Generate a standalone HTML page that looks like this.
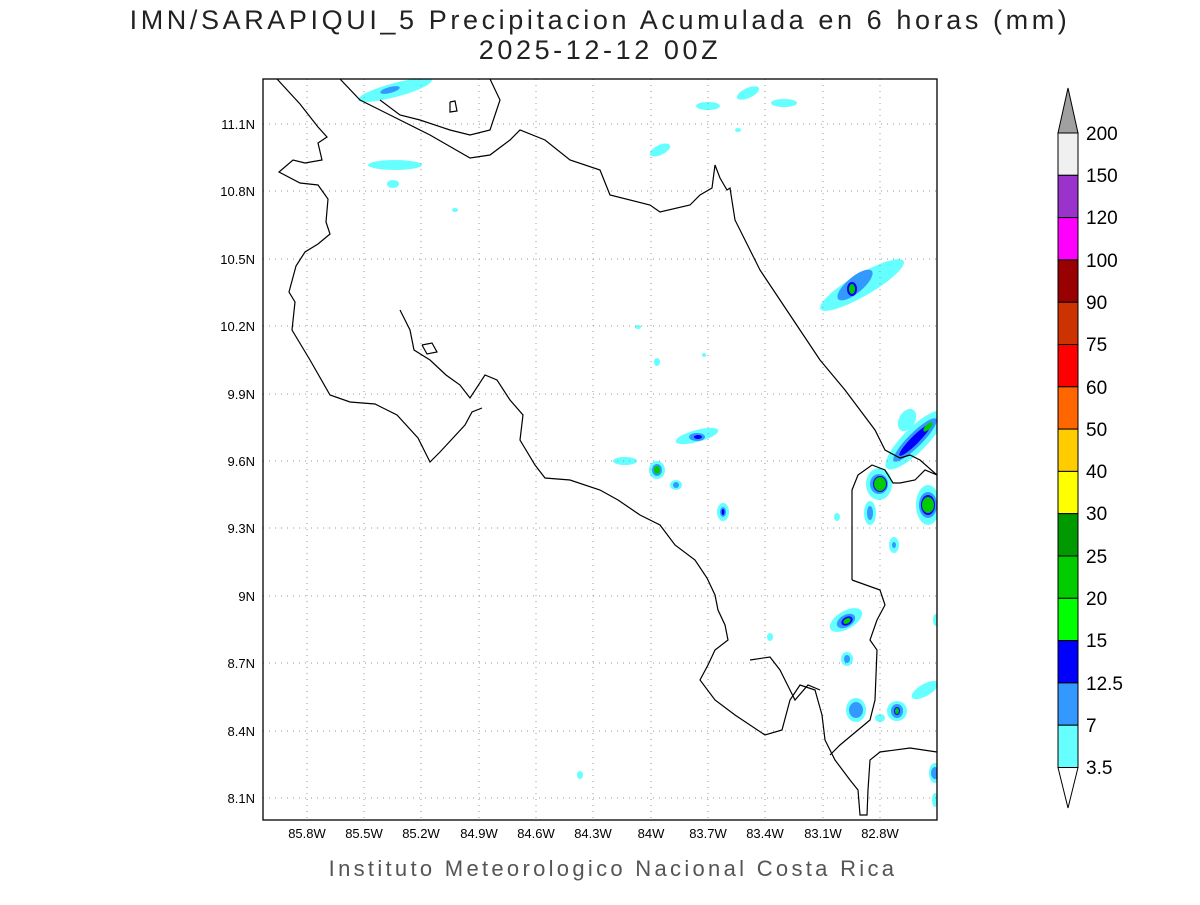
<!DOCTYPE html>
<html><head><meta charset="utf-8"><style>
body{margin:0;background:#fff;width:1200px;height:900px;overflow:hidden}
svg text{font-family:"Liberation Sans",sans-serif}
</style></head><body>
<svg width="1200" height="900" viewBox="0 0 1200 900" xmlns="http://www.w3.org/2000/svg">
<text x="600" y="29" font-size="27" text-anchor="middle" fill="#222" letter-spacing="3.6">IMN/SARAPIQUI_5 Precipitacion Acumulada en 6 horas (mm)</text>
<text x="600" y="59" font-size="27" text-anchor="middle" fill="#222" letter-spacing="3.6">2025-12-12 00Z</text>
<defs><clipPath id="c"><rect x="263" y="79" width="674" height="741"/></clipPath></defs>
<g clip-path="url(#c)">
<g>
<ellipse cx="395" cy="90" rx="38" ry="7" transform="rotate(-15 395 90)" fill="#66ffff"/><ellipse cx="390" cy="90" rx="10" ry="3" transform="rotate(-15 390 90)" fill="#3399ff"/>
<ellipse cx="395" cy="165" rx="27" ry="5" fill="#66ffff"/><ellipse cx="393" cy="184" rx="6" ry="4" fill="#66ffff"/>
<ellipse cx="708" cy="106" rx="12" ry="4" fill="#66ffff"/><ellipse cx="748" cy="93" rx="12" ry="5" transform="rotate(-25 748 93)" fill="#66ffff"/><ellipse cx="784" cy="103" rx="13" ry="4" fill="#66ffff"/>
<ellipse cx="660" cy="150" rx="11" ry="5" transform="rotate(-25 660 150)" fill="#66ffff"/>
<ellipse cx="862" cy="285" rx="48" ry="11" transform="rotate(-30 862 285)" fill="#66ffff"/><ellipse cx="855" cy="285" rx="22" ry="8" transform="rotate(-40 855 285)" fill="#3399ff"/><ellipse cx="852" cy="289" rx="5" ry="7" fill="#0000ff"/><ellipse cx="852" cy="289" rx="3" ry="5" fill="#00cc00"/>
<ellipse cx="697" cy="436" rx="22" ry="6" transform="rotate(-15 697 436)" fill="#66ffff"/><ellipse cx="697" cy="437" rx="8" ry="4" fill="#3399ff"/><ellipse cx="698" cy="437" rx="4" ry="2" fill="#0000ff"/>
<ellipse cx="625" cy="461" rx="12" ry="4" fill="#66ffff"/>
<ellipse cx="657" cy="470" rx="8" ry="9" fill="#66ffff"/><ellipse cx="657" cy="470" rx="5" ry="6" fill="#3399ff"/><ellipse cx="657" cy="470" rx="3" ry="4" fill="#00cc00"/>
<ellipse cx="676" cy="485" rx="6" ry="5" fill="#66ffff"/><ellipse cx="676" cy="485" rx="3" ry="3" fill="#3399ff"/>
<ellipse cx="723" cy="512" rx="6" ry="9" fill="#66ffff"/><ellipse cx="723" cy="512" rx="3" ry="5" fill="#3399ff"/><ellipse cx="723" cy="512" rx="1.5" ry="3" fill="#0000ff"/>
<ellipse cx="907" cy="420" rx="8" ry="12" transform="rotate(30 907 420)" fill="#66ffff"/>
<ellipse cx="915" cy="440" rx="40" ry="12" transform="rotate(-45 915 440)" fill="#66ffff"/><ellipse cx="915" cy="440" rx="30" ry="7" transform="rotate(-45 915 440)" fill="#3399ff"/><ellipse cx="915" cy="440" rx="22" ry="4" transform="rotate(-45 915 440)" fill="#0000ff"/><ellipse cx="928" cy="427" rx="6" ry="2.5" transform="rotate(-45 928 427)" fill="#00cc00"/>
<ellipse cx="879" cy="484" rx="13" ry="16" fill="#66ffff"/><ellipse cx="879" cy="484" rx="9" ry="10" fill="#3399ff"/><ellipse cx="880" cy="484" rx="7" ry="8" fill="#0000ff"/><ellipse cx="880" cy="484" rx="6" ry="7" fill="#00cc00"/>
<ellipse cx="928" cy="505" rx="12" ry="20" fill="#66ffff"/><ellipse cx="928" cy="505" rx="9" ry="13" fill="#3399ff"/><ellipse cx="928" cy="505" rx="7" ry="10" fill="#0000ff"/><ellipse cx="928" cy="505" rx="6" ry="8" fill="#00cc00"/>
<ellipse cx="870" cy="513" rx="6" ry="12" fill="#66ffff"/><ellipse cx="870" cy="513" rx="3" ry="7" fill="#3399ff"/>
<ellipse cx="837" cy="517" rx="3" ry="4" fill="#66ffff"/>
<ellipse cx="894" cy="545" rx="5" ry="8" fill="#66ffff"/><ellipse cx="894" cy="545" rx="2" ry="3" fill="#3399ff"/>
<ellipse cx="846" cy="620" rx="18" ry="9" transform="rotate(-30 846 620)" fill="#66ffff"/><ellipse cx="846" cy="621" rx="10" ry="6" transform="rotate(-30 846 621)" fill="#3399ff"/><ellipse cx="847" cy="621" rx="6" ry="4" transform="rotate(-30 847 621)" fill="#0000ff"/><ellipse cx="847" cy="621" rx="4" ry="2.5" transform="rotate(-30 847 621)" fill="#00cc00"/>
<ellipse cx="847" cy="659" rx="6" ry="7" fill="#66ffff"/><ellipse cx="847" cy="659" rx="3" ry="4" fill="#3399ff"/>
<ellipse cx="856" cy="710" rx="10" ry="12" fill="#66ffff"/><ellipse cx="856" cy="710" rx="7" ry="8" fill="#3399ff"/>
<ellipse cx="897" cy="711" rx="10" ry="10" fill="#66ffff"/><ellipse cx="897" cy="711" rx="6" ry="7" fill="#3399ff"/><ellipse cx="897" cy="711" rx="3" ry="4" fill="#0000ff"/><ellipse cx="897" cy="711" rx="2" ry="3" fill="#00cc00"/>
<ellipse cx="880" cy="718" rx="5" ry="4" fill="#66ffff"/>
<ellipse cx="925" cy="690" rx="15" ry="6" transform="rotate(-30 925 690)" fill="#66ffff"/>
<ellipse cx="936" cy="620" rx="3" ry="6" fill="#66ffff"/>
<ellipse cx="935" cy="773" rx="6" ry="10" fill="#66ffff"/><ellipse cx="935" cy="773" rx="4" ry="6" fill="#3399ff"/><ellipse cx="935" cy="800" rx="3" ry="7" fill="#66ffff"/>
<ellipse cx="770" cy="637" rx="3" ry="4" fill="#66ffff"/><ellipse cx="580" cy="775" rx="3" ry="4" fill="#66ffff"/>
<ellipse cx="657" cy="362" rx="3" ry="4" fill="#66ffff"/><ellipse cx="638" cy="327" rx="3" ry="2" fill="#66ffff"/><ellipse cx="704" cy="355" rx="2" ry="2" fill="#66ffff"/><ellipse cx="455" cy="210" rx="3" ry="2" fill="#66ffff"/><ellipse cx="738" cy="130" rx="3" ry="2" fill="#66ffff"/>
</g>
<g stroke="#999" stroke-width="1" stroke-dasharray="1,5">
<line x1="263" y1="124" x2="937" y2="124"/><line x1="263" y1="191" x2="937" y2="191"/><line x1="263" y1="259" x2="937" y2="259"/><line x1="263" y1="326" x2="937" y2="326"/><line x1="263" y1="394" x2="937" y2="394"/><line x1="263" y1="461" x2="937" y2="461"/><line x1="263" y1="528" x2="937" y2="528"/><line x1="263" y1="596" x2="937" y2="596"/><line x1="263" y1="663" x2="937" y2="663"/><line x1="263" y1="731" x2="937" y2="731"/><line x1="263" y1="798" x2="937" y2="798"/>
<line x1="307" y1="79" x2="307" y2="820"/><line x1="364" y1="79" x2="364" y2="820"/><line x1="421" y1="79" x2="421" y2="820"/><line x1="479" y1="79" x2="479" y2="820"/><line x1="536" y1="79" x2="536" y2="820"/><line x1="593" y1="79" x2="593" y2="820"/><line x1="651" y1="79" x2="651" y2="820"/><line x1="708" y1="79" x2="708" y2="820"/><line x1="765" y1="79" x2="765" y2="820"/><line x1="823" y1="79" x2="823" y2="820"/><line x1="880" y1="79" x2="880" y2="820"/>
</g>
<g fill="none" stroke="#000" stroke-width="1.2">
<polyline points="277,79 300,104 318,127 327,137 318,143 322,160 305,163 293,160 279,172 300,183 318,185 328,199 326,222 330,234 318,244 305,252 296,266 289,292 295,302 292,330 310,360 330,395 350,402 375,404 397,415 418,438 430,462 440,452 465,425 472,412 482,408"/>
<polyline points="400,310 410,330 414,350 430,360 446,375 460,385 470,398 485,375 497,380 510,400 523,415 520,440 535,465 545,478 570,480 600,490 618,500 640,515 660,525 675,545 695,560 707,578 715,595 718,610 725,625 728,640 715,650 708,665 700,680 715,700 735,715 765,735 782,730 790,700 800,685 815,690 822,715 825,740 835,760 850,780 858,790 860,815 867,815 868,790 870,760 880,752 910,748 937,752"/>
<polyline points="750,660 770,657 780,670 790,690 795,700 808,685 820,690"/>
<polyline points="340,79 360,100 400,120 430,135 470,158 490,155 510,140 520,130 545,140 570,160 600,170 610,195 650,205 660,212 690,205 700,195 712,188 715,165 720,178 727,190 730,188 735,220 745,240 760,270 780,300 800,330 820,360 830,372 845,390 860,410 875,430 885,450 900,458 910,455 920,460 937,475"/>
<polyline points="490,79 500,100 490,130 470,135 450,130 420,120 400,115 380,100"/>
<polyline points="852,580 852,490 858,475 872,465 885,470 893,483 900,483 915,480 925,470 937,475"/>
<polyline points="852,580 880,590 885,605 877,620 870,640 877,650 875,700 870,720 840,745 830,755"/>
<polyline points="422,345 432,343 437,352 427,354 422,345"/>
<polyline points="450,102 455,101 457,111 450,112 450,102"/>
</g>
</g>
<rect x="263" y="79" width="674" height="741" fill="none" stroke="#000" stroke-width="1.3"/>
<g font-size="13" text-anchor="end" fill="#000">
<text x="255" y="129">11.1N</text><text x="255" y="196">10.8N</text><text x="255" y="264">10.5N</text><text x="255" y="331">10.2N</text><text x="255" y="399">9.9N</text><text x="255" y="466">9.6N</text><text x="255" y="533">9.3N</text><text x="255" y="601">9N</text><text x="255" y="668">8.7N</text><text x="255" y="736">8.4N</text><text x="255" y="803">8.1N</text>
</g>
<g font-size="13" text-anchor="middle" fill="#000">
<text x="307" y="838">85.8W</text><text x="364" y="838">85.5W</text><text x="421" y="838">85.2W</text><text x="479" y="838">84.9W</text><text x="536" y="838">84.6W</text><text x="593" y="838">84.3W</text><text x="651" y="838">84W</text><text x="708" y="838">83.7W</text><text x="765" y="838">83.4W</text><text x="823" y="838">83.1W</text><text x="880" y="838">82.8W</text>
</g>
<text x="613" y="876" font-size="22" text-anchor="middle" fill="#555" letter-spacing="3.3">Instituto Meteorologico Nacional Costa Rica</text>
<g stroke="#000" stroke-width="1">
<polygon points="1058,133 1078,133 1068,88" fill="#a0a0a0"/>
<rect x="1058" y="133" width="20" height="42.3" fill="#f0f0f0"/>
<rect x="1058" y="175.3" width="20" height="42.3" fill="#9933cc"/>
<rect x="1058" y="217.6" width="20" height="42.3" fill="#ff00ff"/>
<rect x="1058" y="259.9" width="20" height="42.3" fill="#990000"/>
<rect x="1058" y="302.2" width="20" height="42.3" fill="#cc3300"/>
<rect x="1058" y="344.5" width="20" height="42.3" fill="#ff0000"/>
<rect x="1058" y="386.8" width="20" height="42.3" fill="#ff6600"/>
<rect x="1058" y="429.1" width="20" height="42.3" fill="#ffcc00"/>
<rect x="1058" y="471.4" width="20" height="42.3" fill="#ffff00"/>
<rect x="1058" y="513.7" width="20" height="42.3" fill="#009900"/>
<rect x="1058" y="556" width="20" height="42.3" fill="#00cc00"/>
<rect x="1058" y="598.3" width="20" height="42.3" fill="#00ff00"/>
<rect x="1058" y="640.6" width="20" height="42.3" fill="#0000ff"/>
<rect x="1058" y="682.9" width="20" height="42.3" fill="#3399ff"/>
<rect x="1058" y="725.2" width="20" height="42.3" fill="#66ffff"/>
<polygon points="1058,767.5 1078,767.5 1068,808" fill="#fff"/>
</g>
<g font-size="19" fill="#000">
<text x="1086" y="140">200</text><text x="1086" y="182">150</text><text x="1086" y="224">120</text><text x="1086" y="267">100</text><text x="1086" y="309">90</text><text x="1086" y="351">75</text><text x="1086" y="394">60</text><text x="1086" y="436">50</text><text x="1086" y="478">40</text><text x="1086" y="520">30</text><text x="1086" y="563">25</text><text x="1086" y="605">20</text><text x="1086" y="647">15</text><text x="1086" y="690">12.5</text><text x="1086" y="732">7</text><text x="1086" y="774">3.5</text>
</g>
</svg>
</body></html>
